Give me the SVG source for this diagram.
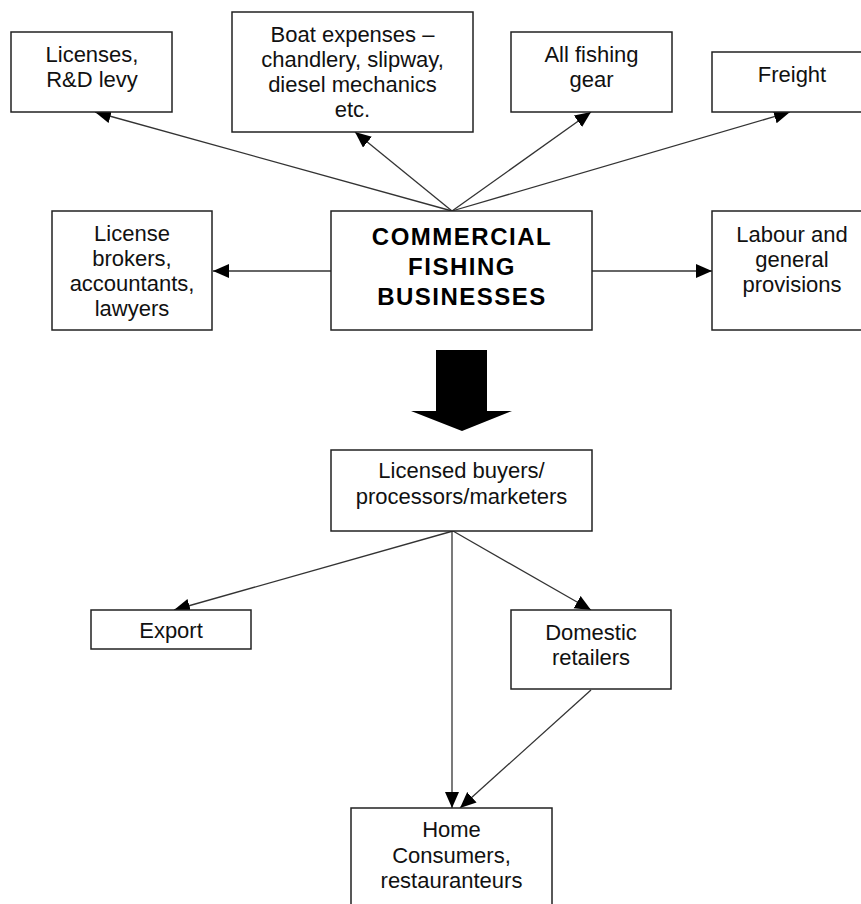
<svg xmlns="http://www.w3.org/2000/svg" width="861" height="904" viewBox="0 0 861 904">
<style>
.box{fill:#fff;stroke:#222;stroke-width:1.5}
.t{font-family:"Liberation Sans",Arial,sans-serif;font-size:22px;fill:#111;text-anchor:middle}
.b{font-family:"Liberation Sans",Arial,sans-serif;font-size:24px;font-weight:bold;fill:#000;text-anchor:middle;letter-spacing:1.5px}
.c{stroke:#333;stroke-width:1.3;fill:none;marker-end:url(#ah)}
</style>
<defs>
<marker id="ah" markerUnits="userSpaceOnUse" markerWidth="17" markerHeight="15" refX="16" refY="7" orient="auto">
<path d="M0,0 L16,7 L0,14 z" fill="#000"/>
</marker>
</defs>
<rect width="861" height="904" fill="#fff"/>
<g id="connectors">
<line class="c" x1="452" y1="211" x2="95" y2="112"/>
<line class="c" x1="452" y1="211" x2="355" y2="132"/>
<line class="c" x1="452" y1="211" x2="591" y2="112"/>
<line class="c" x1="452" y1="211" x2="790" y2="112"/>
<line class="c" x1="331" y1="271" x2="213" y2="271"/>
<line class="c" x1="592" y1="271" x2="712" y2="271"/>
<line class="c" x1="453" y1="531" x2="174" y2="610"/>
<line class="c" x1="453" y1="531" x2="591" y2="610"/>
<line class="c" x1="452" y1="531" x2="452" y2="808"/>
<line class="c" x1="591" y1="690" x2="460" y2="808"/>
<polygon id="bigarrow" points="436,350 487,350 487,411 512,411 462,431 411,411 436,411" fill="#000"/>
</g>
<g id="licenses">
<rect class="box" x="11" y="32" width="161" height="80"/>
<text class="t" x="92" y="62">Licenses,</text>
<text class="t" x="92" y="87">R&amp;D levy</text>
</g>
<g id="boat">
<rect class="box" x="232" y="12" width="241" height="120"/>
<text class="t" x="352.5" y="42">Boat expenses –</text>
<text class="t" x="352.5" y="67">chandlery, slipway,</text>
<text class="t" x="352.5" y="92">diesel mechanics</text>
<text class="t" x="352.5" y="117">etc.</text>
</g>
<g id="gear">
<rect class="box" x="511" y="32" width="161" height="80"/>
<text class="t" x="591.5" y="62">All fishing</text>
<text class="t" x="591.5" y="87">gear</text>
</g>
<g id="freight">
<rect class="box" x="712" y="52" width="161" height="60"/>
<text class="t" x="792" y="82">Freight</text>
</g>
<g id="brokers">
<rect class="box" x="52" y="211" width="160" height="119"/>
<text class="t" x="132" y="241">License</text>
<text class="t" x="132" y="266">brokers,</text>
<text class="t" x="132" y="291">accountants,</text>
<text class="t" x="132" y="316">lawyers</text>
</g>
<g id="commercial">
<rect class="box" x="331" y="211" width="261" height="119"/>
<text class="b" x="462" y="245">COMMERCIAL</text>
<text class="b" x="462" y="275">FISHING</text>
<text class="b" x="462" y="305">BUSINESSES</text>
</g>
<g id="labour">
<rect class="box" x="712" y="211" width="160" height="119"/>
<text class="t" x="792" y="242">Labour and</text>
<text class="t" x="792" y="267">general</text>
<text class="t" x="792" y="292">provisions</text>
</g>
<g id="buyers">
<rect class="box" x="331" y="450" width="261" height="81"/>
<text class="t" x="461.5" y="478">Licensed buyers/</text>
<text class="t" x="461.5" y="504">processors/marketers</text>
</g>
<g id="export">
<rect class="box" x="91" y="610" width="160" height="39"/>
<text class="t" x="171" y="638">Export</text>
</g>
<g id="domestic">
<rect class="box" x="511" y="610" width="160" height="79"/>
<text class="t" x="591" y="640">Domestic</text>
<text class="t" x="591" y="665">retailers</text>
</g>
<g id="home">
<rect class="box" x="351" y="808" width="201" height="110"/>
<text class="t" x="451.5" y="837">Home</text>
<text class="t" x="451.5" y="863">Consumers,</text>
<text class="t" x="451.5" y="888">restauranteurs</text>
</g>
</svg>
